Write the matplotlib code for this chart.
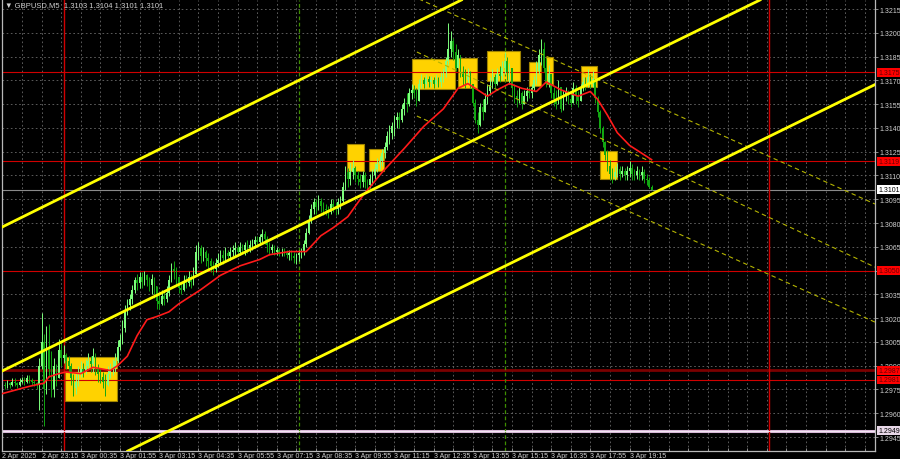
import numpy as np
import matplotlib.pyplot as plt
from matplotlib.patches import Rectangle

# GBPUSD M5, бары с 2 Apr 21:55 (индекс 0 = первый бар)
closes = [
    1.2978, 1.2977, 1.2979, 1.2978, 1.2980, 1.2979, 1.2978, 1.2980, 1.2981, 1.2980,
    1.2982, 1.2981, 1.2980, 1.2979, 1.2978,
    1.2990, 1.3005, 1.2975, 1.3000, 1.2988, 1.2975, 1.2990, 1.2982, 1.3000, 1.2995,
    1.2997, 1.2993, 1.2990, 1.2982, 1.2976, 1.2980, 1.2985, 1.2988, 1.2986, 1.2990,
    1.2993, 1.2991, 1.2996, 1.2988, 1.2985, 1.2983, 1.2980, 1.2978, 1.2985, 1.2988,
    1.2989, 1.2993,
    1.3002, 1.3006, 1.3014, 1.3024, 1.3028, 1.3032, 1.3038, 1.3044, 1.3042, 1.3046,
    1.3043, 1.3047, 1.3044, 1.3041, 1.3045, 1.3040, 1.3031, 1.3029, 1.3034, 1.3032,
    1.3036, 1.3044, 1.3051, 1.3050,
    1.3046, 1.3039, 1.3038, 1.3043, 1.3042, 1.3046, 1.3043, 1.3048, 1.3062, 1.3064,
    1.3059, 1.3062, 1.3058, 1.3056, 1.3053, 1.3051, 1.3055, 1.3057, 1.3060, 1.3058,
    1.3061, 1.3059, 1.3062, 1.3063, 1.3064, 1.3062, 1.3065, 1.3063, 1.3066, 1.3064,
    1.3066, 1.3067, 1.3069, 1.3068, 1.3071, 1.3073, 1.3070, 1.3066, 1.3063, 1.3065,
    1.3062, 1.3063, 1.3061, 1.3062, 1.3061, 1.3060, 1.3061, 1.3059, 1.3058, 1.3060,
    1.3061, 1.3062, 1.3067, 1.3074, 1.3082, 1.3089, 1.3093, 1.3090, 1.3094, 1.3091,
    1.3089, 1.3088, 1.3087, 1.3092, 1.3090, 1.3089, 1.3093, 1.3094, 1.3103, 1.3112,
    1.3108, 1.3112, 1.3115, 1.3110, 1.3108, 1.3106, 1.3110, 1.3106, 1.3104, 1.3108,
    1.3110, 1.3114, 1.3117, 1.3119, 1.3124, 1.3128, 1.3135, 1.3137, 1.3141, 1.3145,
    1.3147, 1.3145, 1.3152, 1.3156, 1.3155, 1.3162, 1.3164, 1.3162, 1.3157, 1.3168,
    1.3170, 1.3168, 1.3171, 1.3169, 1.3170, 1.3168, 1.3170, 1.3169, 1.3172, 1.3175,
    1.3182, 1.3190, 1.3195, 1.3188, 1.3178, 1.3186, 1.3175, 1.3172, 1.3170, 1.3174,
    1.3168, 1.3156, 1.3145, 1.3142, 1.3153, 1.3150, 1.3158, 1.3163, 1.3167, 1.3172,
    1.3168, 1.3174, 1.3173, 1.3178, 1.3182, 1.3175, 1.3178, 1.3165, 1.3160, 1.3158,
    1.3162, 1.3155, 1.3160, 1.3163, 1.3162, 1.3165, 1.3170, 1.3176, 1.3186, 1.3190,
    1.3178, 1.3168, 1.3174, 1.3162, 1.3158, 1.3155, 1.3166, 1.3152, 1.3160, 1.3163,
    1.3158, 1.3156, 1.3165, 1.3160, 1.3157, 1.3165, 1.3169, 1.3167, 1.3172, 1.3168,
    1.3171, 1.3159, 1.3150, 1.3140, 1.3131, 1.3123, 1.3116, 1.3111, 1.3109, 1.3112,
    1.3114, 1.3111, 1.3113, 1.3110, 1.3113, 1.3115, 1.3111, 1.3110, 1.3113, 1.3110,
    1.3112, 1.3108, 1.3107, 1.3103, 1.3101,
]
highs = [
    1.2981, 1.2980, 1.2981, 1.2980, 1.2982, 1.2982, 1.2980, 1.2982, 1.2983, 1.2983,
    1.2984, 1.2984, 1.2982, 1.2981, 1.2980,
    1.2995, 1.3023, 1.3010, 1.3015, 1.3016, 1.2999, 1.2995, 1.2991, 1.3007, 1.3005,
    1.3003, 1.2998, 1.2996, 1.2992, 1.2985, 1.2986, 1.2990, 1.2993, 1.2992, 1.2994,
    1.2998, 1.2996, 1.3001, 1.2998, 1.2991, 1.2988, 1.2986, 1.2985, 1.2990, 1.2992,
    1.2994, 1.2998,
    1.3006, 1.3010, 1.3019, 1.3028, 1.3032, 1.3035, 1.3041, 1.3046, 1.3048, 1.3049,
    1.3049, 1.3050, 1.3048, 1.3046, 1.3048, 1.3046, 1.3040, 1.3035, 1.3038, 1.3037,
    1.3040, 1.3047, 1.3055, 1.3056,
    1.3052, 1.3046, 1.3043, 1.3047, 1.3047, 1.3050, 1.3048, 1.3052, 1.3066, 1.3068,
    1.3066, 1.3065, 1.3063, 1.3061, 1.3058, 1.3056, 1.3058, 1.3061, 1.3063, 1.3063,
    1.3065, 1.3063, 1.3065, 1.3066, 1.3068, 1.3066, 1.3068, 1.3067, 1.3068, 1.3069,
    1.3069, 1.3070, 1.3072, 1.3072, 1.3073, 1.3076, 1.3075, 1.3072, 1.3068, 1.3067,
    1.3066, 1.3065, 1.3064, 1.3064, 1.3064, 1.3063, 1.3063, 1.3063, 1.3062, 1.3061,
    1.3063, 1.3064, 1.3069, 1.3077, 1.3085, 1.3092, 1.3096, 1.3095, 1.3098, 1.3096,
    1.3093, 1.3092, 1.3091, 1.3095, 1.3095, 1.3093, 1.3096, 1.3097, 1.3106, 1.3116,
    1.3115, 1.3118, 1.3120, 1.3116, 1.3113, 1.3111, 1.3113, 1.3112, 1.3108, 1.3111,
    1.3114, 1.3118, 1.3121, 1.3122, 1.3127, 1.3131, 1.3138, 1.3142, 1.3144, 1.3148,
    1.3150, 1.3150, 1.3155, 1.3159, 1.3162, 1.3165, 1.3168, 1.3167, 1.3165, 1.3171,
    1.3174, 1.3172, 1.3174, 1.3173, 1.3173, 1.3172, 1.3174, 1.3172, 1.3175, 1.3178,
    1.3185, 1.3206, 1.3201, 1.3197, 1.3193, 1.3190, 1.3184, 1.3179, 1.3177, 1.3178,
    1.3176, 1.3166, 1.3158, 1.3150, 1.3156, 1.3158, 1.3162, 1.3168, 1.3172, 1.3177,
    1.3174, 1.3178, 1.3179, 1.3182, 1.3188, 1.3185, 1.3181, 1.3176, 1.3168, 1.3164,
    1.3166, 1.3163, 1.3164, 1.3166, 1.3166, 1.3168, 1.3173, 1.3182, 1.3190, 1.3196,
    1.3194, 1.3184, 1.3180, 1.3172, 1.3166, 1.3164, 1.3170, 1.3165, 1.3164, 1.3166,
    1.3164, 1.3162, 1.3169, 1.3167, 1.3163, 1.3168, 1.3172, 1.3172, 1.3177, 1.3174,
    1.3176, 1.3170, 1.3160, 1.3151, 1.3141, 1.3132, 1.3126, 1.3120, 1.3115, 1.3116,
    1.3118, 1.3116, 1.3116, 1.3115, 1.3116, 1.3119, 1.3117, 1.3114, 1.3116, 1.3114,
    1.3116, 1.3114, 1.3111, 1.3109, 1.3104,
]
lows = [
    1.2976, 1.2975, 1.2976, 1.2976, 1.2977, 1.2977, 1.2976, 1.2977, 1.2979, 1.2978,
    1.2979, 1.2979, 1.2978, 1.2977, 1.2975,
    1.2962, 1.2988, 1.2952, 1.2972, 1.2983, 1.2970, 1.2970, 1.2977, 1.2982, 1.2990,
    1.2992, 1.2988, 1.2986, 1.2978, 1.2971, 1.2972, 1.2977, 1.2983, 1.2983, 1.2985,
    1.2988, 1.2986, 1.2986, 1.2984, 1.2980, 1.2979, 1.2976, 1.2971, 1.2977, 1.2982,
    1.2984, 1.2986,
    1.2992, 1.3000, 1.3004, 1.3011, 1.3022, 1.3025, 1.3029, 1.3036, 1.3038, 1.3039,
    1.3039, 1.3041, 1.3040, 1.3037, 1.3035, 1.3033, 1.3026, 1.3026, 1.3028, 1.3028,
    1.3030, 1.3034, 1.3043, 1.3045,
    1.3040, 1.3036, 1.3035, 1.3037, 1.3039, 1.3040, 1.3039, 1.3041, 1.3049, 1.3057,
    1.3055, 1.3056, 1.3053, 1.3051, 1.3049, 1.3047, 1.3049, 1.3052, 1.3054, 1.3054,
    1.3056, 1.3056, 1.3057, 1.3059, 1.3059, 1.3059, 1.3060, 1.3061, 1.3060, 1.3061,
    1.3062, 1.3063, 1.3064, 1.3065, 1.3066, 1.3068, 1.3067, 1.3062, 1.3060, 1.3061,
    1.3060, 1.3060, 1.3059, 1.3059, 1.3059, 1.3058, 1.3057, 1.3057, 1.3055, 1.3054,
    1.3056, 1.3058, 1.3060, 1.3065, 1.3073, 1.3080, 1.3086, 1.3086, 1.3088, 1.3087,
    1.3085, 1.3085, 1.3083, 1.3086, 1.3087, 1.3085, 1.3086, 1.3089, 1.3092, 1.3101,
    1.3103, 1.3104, 1.3108, 1.3106, 1.3104, 1.3102, 1.3103, 1.3102, 1.3101, 1.3102,
    1.3104, 1.3108, 1.3112, 1.3114, 1.3116, 1.3121, 1.3126, 1.3130, 1.3133, 1.3135,
    1.3140, 1.3140, 1.3144, 1.3148, 1.3150, 1.3154, 1.3158, 1.3159, 1.3154, 1.3157,
    1.3165, 1.3165, 1.3166, 1.3166, 1.3166, 1.3165, 1.3166, 1.3166, 1.3166, 1.3169,
    1.3172, 1.3180, 1.3185, 1.3183, 1.3176, 1.3178, 1.3172, 1.3167, 1.3165, 1.3168,
    1.3165, 1.3154, 1.3143, 1.3137, 1.3141, 1.3145, 1.3150, 1.3155, 1.3161, 1.3165,
    1.3165, 1.3167, 1.3169, 1.3170, 1.3174, 1.3170, 1.3168, 1.3160, 1.3156, 1.3153,
    1.3156, 1.3152, 1.3155, 1.3157, 1.3159, 1.3159, 1.3163, 1.3168, 1.3174, 1.3180,
    1.3175, 1.3166, 1.3166, 1.3159, 1.3154, 1.3152, 1.3156, 1.3150, 1.3151, 1.3157,
    1.3155, 1.3153, 1.3157, 1.3155, 1.3153, 1.3157, 1.3163, 1.3164, 1.3166, 1.3165,
    1.3166, 1.3156, 1.3147, 1.3137, 1.3128, 1.3120, 1.3113, 1.3107, 1.3105, 1.3107,
    1.3109, 1.3107, 1.3109, 1.3107, 1.3107, 1.3109, 1.3107, 1.3107, 1.3108, 1.3107,
    1.3107, 1.3105, 1.3104, 1.3102, 1.3101,
]
first_open = 1.2979

# скользящая средняя (красная)
ma_bars = [-1, 11, 17, 19, 23, 26, 32, 37, 44, 47, 51, 55, 59, 63, 68, 72, 81, 89, 97,
           105, 109, 117, 124, 130, 135, 141, 147, 155, 164, 172, 180, 186, 190, 198,
           202, 207, 212, 218, 222, 228, 235, 240, 243, 247, 251, 256, 265]
ma_vals = [1.2972, 1.2977, 1.2979, 1.2983, 1.2985, 1.2986, 1.2985, 1.2989, 1.2987,
           1.2990, 1.2996, 1.3009, 1.3019, 1.3021, 1.3024, 1.3029, 1.3038, 1.3047,
           1.3053, 1.3057, 1.3060, 1.3062, 1.3062, 1.3072, 1.3077, 1.3084, 1.3097,
           1.3112, 1.3127, 1.3141, 1.3152, 1.3165, 1.3168, 1.3160, 1.3164, 1.3168,
           1.3165, 1.3163, 1.3169, 1.3164, 1.3160, 1.3163, 1.3158, 1.3148, 1.3137,
           1.3129, 1.3120]

# жёлтые прямоугольники: (бар от, бар до, низ, верх)
boxes = [(25.6, 46.8, 1.29677, 1.29955), (140.7, 147.6, 1.31128, 1.31298),
         (149.6, 155.8, 1.31128, 1.31267), (167.2, 184.7, 1.31645, 1.31835),
         (186.0, 193.7, 1.31652, 1.31841), (197.8, 211.3, 1.31696, 1.31885),
         (215.0, 220.0, 1.31664, 1.31816), (221.9, 224.7, 1.31677, 1.31847),
         (236.2, 242.7, 1.31660, 1.31790), (244.0, 250.9, 1.31078, 1.31254)]

# канал (сплошные жёлтые) и нисходящий канал (пунктир)
channel = [((-1, 1.30768), (133.7, 1.31797)),
           ((-1, 1.29860), (268.4, 1.31898)),
           ((55.3, 1.29393), (264.3, 1.30977))]
channel_dash = [((169.2, 1.32219), (356.2, 1.30920)),
                ((169.2, 1.31879), (356.2, 1.30522)),
                ((169.2, 1.31475), (356.2, 1.30175))]

levels_red = [1.3175, 1.3119, 1.3050, 1.2981]
level_dark = 1.2987
bid = 1.3101
level_low = 1.2949

day_bars = [25, 313]
session_bars = [121, 205]

time_labels = ["2 Apr 2025", "2 Apr 23:15", "3 Apr 00:35", "3 Apr 01:55", "3 Apr 03:15",
               "3 Apr 04:35", "3 Apr 05:55", "3 Apr 07:15", "3 Apr 08:35", "3 Apr 09:55",
               "3 Apr 11:15", "3 Apr 12:35", "3 Apr 13:55", "3 Apr 15:15", "3 Apr 16:35",
               "3 Apr 17:55", "3 Apr 19:15"]

FONT = ['Liberation Sans', 'DejaVu Sans']
TXT = '#d0d0d0'
FS = 5.0

fig = plt.figure(figsize=(9, 4.6), dpi=100, facecolor='black')
ax = fig.add_axes([2/900, 8/460, 873/900, 451/460])
ax.set_facecolor('black')

c = np.array(closes)
o = np.array([first_open] + closes[:-1])
h = np.maximum(np.array(highs), np.maximum(o, c))
l = np.minimum(np.array(lows), np.minimum(o, c))
x = np.arange(len(c))
cols = np.where(c >= o, '#7dff7d', '#12a812')

# прямоугольники под свечами
for b0, b1, lo, hi in boxes:
    ax.add_patch(Rectangle((b0, lo), b1 - b0, hi - lo, fc='#ffd200', ec='#a08400',
                           lw=0.8, zorder=1))

# горизонтальные уровни
for p in levels_red:
    ax.axhline(p, color='#d00000', lw=0.8, zorder=1.5)
ax.axhline(level_dark, color='#7a0000', lw=2.0, zorder=1.5)
ax.axhline(bid, color='#8a8a8a', lw=0.8, zorder=1.5)
ax.axhline(level_low, color='#d8b8d8', lw=2.2, zorder=1.5)
ax.axhline(level_low, color='#f6eef6', lw=0.6, zorder=1.6)

for b in day_bars:
    ax.axvline(b, color='#d00000', lw=1.0, zorder=1.5)
for b in session_bars:
    ax.axvline(b, color='#3f8f00', lw=0.9, ls=(0, (3, 2)), zorder=1.5)

# свечи
ax.vlines(x, l, h, colors=cols, lw=0.7, zorder=2)
ax.bar(x, np.maximum(np.abs(c - o), 0.00003), bottom=np.minimum(o, c), width=0.62,
       color=cols, linewidth=0, zorder=2)

ax.plot(ma_bars, ma_vals, color='#ff1a1a', lw=1.2, zorder=3)

for (x0, y0), (x1, y1) in channel:
    ax.axline((x0, y0), (x1, y1), color='#ffff00', lw=2.0, zorder=3.2)
for (x0, y0), (x1, y1) in channel_dash:
    ax.plot([x0, x1], [y0, y1], color='#b4b400', lw=0.8, ls=(0, (4, 3)), zorder=3.1)

ax.set_xlim(-0.16, 356.2)
ax.set_ylim(1.29362, 1.32207)

# оси и сетка
price_ticks = np.round(np.arange(1.2945, 1.32151, 0.0015), 4)
ax.yaxis.tick_right()
ax.set_yticks(price_ticks)
ax.set_yticklabels(['%.4f' % p for p in price_ticks], family=FONT)
xt = np.arange(0, 357, 8)
ax.set_xticks(xt)
ax.set_xticklabels([time_labels[k // 2] if k % 2 == 0 and k // 2 < len(time_labels) else ''
                    for k in range(len(xt))], family=FONT, ha='left')
ax.tick_params(axis='both', colors='#a0a0a0', labelcolor=TXT, labelsize=FS,
               length=2, width=0.6)
ax.tick_params(axis='y', direction='out', pad=1.0)
ax.tick_params(axis='x', direction='in', pad=0.8)
ax.grid(True, color='#6a6a6a', ls=(0, (2, 3)), lw=0.6)
ax.set_axisbelow(True)
for side in ['left', 'right', 'bottom']:
    ax.spines[side].set_color('#b8b8b8')
    ax.spines[side].set_linewidth(0.9)
ax.spines['top'].set_visible(False)

# метки цен справа
def tag(price, fc, tc):
    ax.text(1.0035, price, '%.4f' % price, transform=ax.get_yaxis_transform(),
            fontsize=FS, family=FONT, color=tc, va='center', ha='left', zorder=5,
            bbox=dict(boxstyle='square,pad=0.12', fc=fc, ec='none'), clip_on=False)

for p in levels_red:
    tag(p, '#ff0000', '#6a0000')
tag(level_dark, '#ff0000', '#6a0000')
tag(bid, '#ffffff', '#000000')
tag(level_low, '#e8d8e8', '#000000')

ax.text(0.004, 0.997, '▼ GBPUSD,M5  1.3103 1.3104 1.3101 1.3101', transform=ax.transAxes,
        va='top', ha='left', color=TXT, fontsize=5.5, family=FONT, zorder=6)

fig.savefig('out.png', dpi=100, facecolor='black')
